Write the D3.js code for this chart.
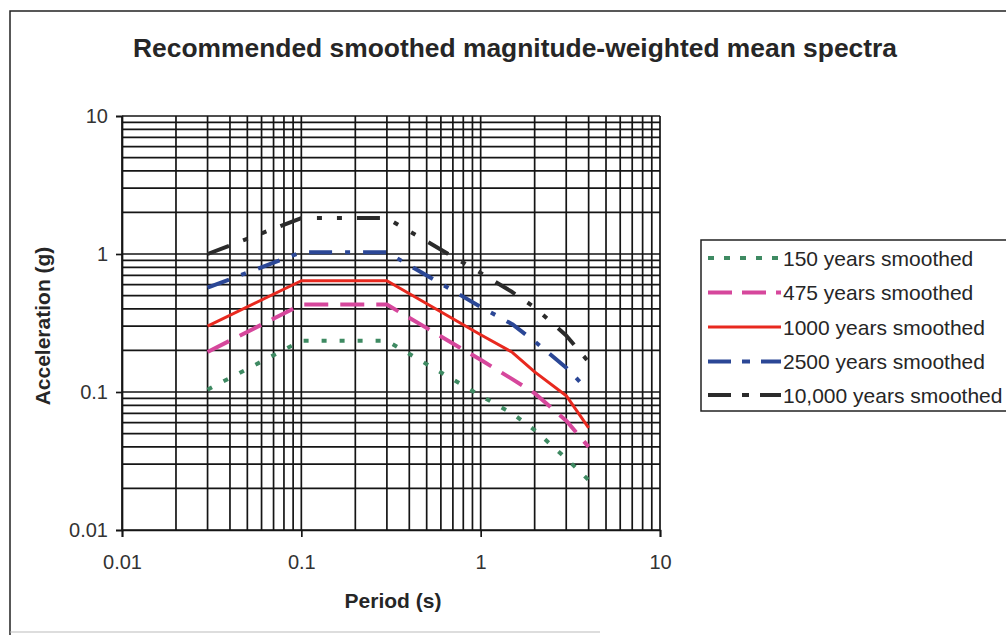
<!DOCTYPE html>
<html>
<head>
<meta charset="utf-8">
<script src="https://cdn.jsdelivr.net/npm/d3@7"></script>
<style>
  html, body { margin: 0; padding: 0; background: #fff; }
  svg { display: block; font-family: "Liberation Sans", Arial, sans-serif; }
</style>
</head>
<body>
<svg id="chart" width="1006" height="635"></svg>
<script>
// ---- Data ----
const periods = [0.03, 0.1, 0.3, 1, 1.5, 2, 3, 4];
const seriesNames = ["150 years smoothed", "475 years smoothed", "1000 years smoothed", "2500 years smoothed", "10,000 years smoothed"];
const y150   = [0.104, 0.235, 0.235, 0.094, 0.070, 0.053, 0.033, 0.023];
const y475   = [0.195, 0.43, 0.43, 0.171, 0.124, 0.098, 0.062, 0.040];
const y1000  = [0.30, 0.64, 0.64, 0.26, 0.194, 0.14, 0.094, 0.055];
const y2500  = [0.57, 1.03, 1.03, 0.414, 0.31, 0.233, 0.15, 0.102];
const y10000 = [1.0, 1.82, 1.82, 0.73, 0.53, 0.41, 0.257, 0.165];
const xTickLabels = ["0.01", "0.1", "1", "10"];
const yTickLabels = ["0.01", "0.1", "1", "10"];
const majorTicks = [0.01, 0.1, 1, 10];
const titleText = "Recommended smoothed magnitude-weighted mean spectra";
const xTitle = "Period (s)";
const yTitle = "Acceleration (g)";

// ---- Styles ----
const styles = [
  { color: "#3e8a62", width: 4,   dash: "5,13" },
  { color: "#d6479c", width: 4,   dash: "24,12" },
  { color: "#e8291f", width: 3,   dash: null },
  { color: "#2b4796", width: 4,   dash: "23,13,5,13" },
  { color: "#2b2b2b", width: 4,   dash: "23,15,5,15,5,15" }
];
const legendDash = ["6,10", "24,10", null, "23,11,8,11", "23,11,7,11"];

const allY = [y150, y475, y1000, y2500, y10000];

const svg = d3.select("#chart");
const pLeft = 122, pRight = 660, pTop = 116, pBottom = 530;

const x = d3.scaleLog().domain([0.01, 10]).range([pLeft, pRight]);
const y = d3.scaleLog().domain([0.01, 10]).range([pBottom, pTop]);

// outer border
svg.append("path")
  .attr("d", `M10,638 L10,11 L1010,11`)
  .attr("fill", "none").attr("stroke", "#222").attr("stroke-width", 1.5);
svg.append("line").attr("x1", 10).attr("x2", 600).attr("y1", 632).attr("y2", 632)
  .attr("stroke", "#bbb").attr("stroke-width", 1);

// title
svg.append("text")
  .attr("x", 133).attr("y", 57)
  .attr("font-size", 25).attr("font-weight", "bold").attr("fill", "#262626")
  .attr("textLength", 764).attr("lengthAdjust", "spacingAndGlyphs")
  .text(titleText);

// gridlines
const g = svg.append("g");
g.selectAll("line.vx").data(x.ticks()).join("line")
  .attr("x1", d => x(d)).attr("x2", d => x(d))
  .attr("y1", pTop).attr("y2", pBottom)
  .attr("stroke", "#151515").attr("stroke-width", 1.7);
g.selectAll("line.hy").data(y.ticks()).join("line")
  .attr("x1", pLeft).attr("x2", pRight)
  .attr("y1", d => y(d)).attr("y2", d => y(d))
  .attr("stroke", "#151515").attr("stroke-width", 1.7);

// axes
const xAxis = d3.axisBottom(x).tickValues(majorTicks)
  .tickFormat((d, i) => xTickLabels[i]).tickSize(7).tickPadding(14);
const yAxis = d3.axisLeft(y).tickValues(majorTicks)
  .tickFormat((d, i) => yTickLabels[i]).tickSize(6).tickPadding(8);

const gx = svg.append("g").attr("transform", `translate(0,${pBottom})`).call(xAxis);
const gy = svg.append("g").attr("transform", `translate(${pLeft},0)`).call(yAxis);
[gx, gy].forEach(a => {
  a.select(".domain").attr("stroke", "#151515").attr("stroke-width", 1.7);
  a.selectAll(".tick line").attr("stroke", "#151515").attr("stroke-width", 1.7);
  a.selectAll(".tick text").attr("font-size", 20).attr("fill", "#333")
    .attr("font-family", "Liberation Sans, Arial, sans-serif");
});
gx.selectAll(".tick text").attr("dy", "0.9em");

// axis titles
svg.append("text")
  .attr("x", 393).attr("y", 608).attr("text-anchor", "middle")
  .attr("font-size", 21).attr("font-weight", "bold").attr("fill", "#262626")
  .text(xTitle);
svg.append("text")
  .attr("transform", "translate(50,326) rotate(-90)")
  .attr("text-anchor", "middle")
  .attr("font-size", 21).attr("font-weight", "bold").attr("fill", "#262626")
  .text(yTitle);

// series lines
const line = d3.line().x(d => x(d[0])).y(d => y(d[1]));
allY.forEach((vals, i) => {
  const pts = periods.map((p, k) => [p, vals[k]]);
  const st = styles[i];
  svg.append("path")
    .datum(pts)
    .attr("d", line)
    .attr("fill", "none")
    .attr("stroke", st.color)
    .attr("stroke-width", st.width)
    .attr("stroke-dasharray", st.dash)
    .attr("stroke-linejoin", "round");
});

// legend
const lg = svg.append("g");
lg.append("rect")
  .attr("x", 701).attr("y", 240).attr("width", 320).attr("height", 171)
  .attr("fill", "#fff").attr("stroke", "#222").attr("stroke-width", 1.5);
const legendY = [258, 292.5, 327, 361.5, 395];
seriesNames.forEach((name, i) => {
  const st = styles[i];
  lg.append("line")
    .attr("x1", 708).attr("x2", 781)
    .attr("y1", legendY[i]).attr("y2", legendY[i])
    .attr("stroke", st.color).attr("stroke-width", st.width)
    .attr("stroke-dasharray", legendDash[i]);
  lg.append("text")
    .attr("x", 783).attr("y", legendY[i] + 7.5)
    .attr("font-size", 21).attr("fill", "#262626")
    .text(name);
});
</script>
</body>
</html>
